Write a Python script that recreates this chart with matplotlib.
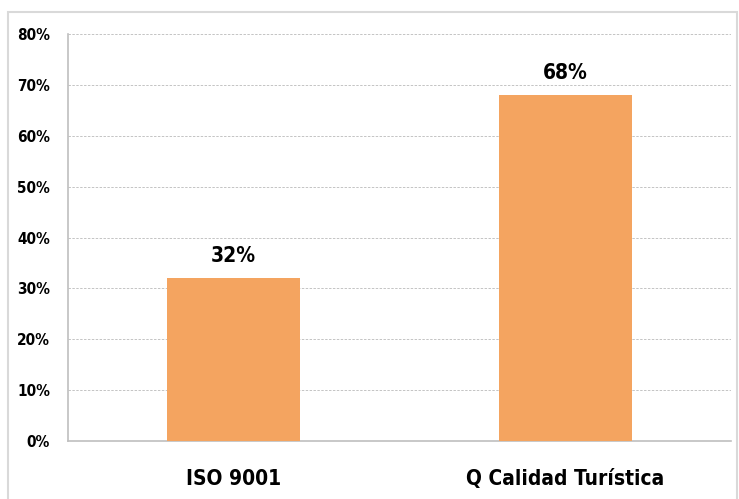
import matplotlib
matplotlib.use("Agg")
import matplotlib.pyplot as plt
from matplotlib.patches import Rectangle
from matplotlib.ticker import FuncFormatter

categories = ["ISO 9001", "Q Calidad Turística"]
values = [32, 68]
yticks = [0, 10, 20, 30, 40, 50, 60, 70, 80]

bar_color = "#F4A460"
font = dict(family="DejaVu Sans", stretch="condensed", weight="bold")

fig = plt.figure(figsize=(7.39, 4.99), dpi=100)
W, H = 739, 499
ax = fig.add_axes([68 / W, 1 - 441 / H, (731 - 68) / W, (441 - 34) / H])

x = list(range(len(categories)))
ax.bar(x, values, width=0.4, color=bar_color, zorder=3)
ax.set_xlim(-0.5, len(categories) - 0.5)
ax.set_ylim(0, 80)
ax.set_yticks(yticks)
ax.yaxis.set_major_formatter(FuncFormatter(lambda v, p: f"{int(v)}%"))
ax.set_xticks(x)
ax.set_xticklabels(categories, fontsize=15, **font)
for lab in ax.get_yticklabels():
    lab.set_fontsize(11)
    lab.set_fontfamily("DejaVu Sans")
    lab.set_fontstretch("condensed")
    lab.set_fontweight("bold")
ax.tick_params(axis="both", length=0)
ax.tick_params(axis="y", pad=13)
ax.tick_params(axis="x", pad=20)
ax.grid(axis="y", color="#C4C4C4", linestyle=(0, (2.5, 1.5)), linewidth=0.7, zorder=0)
for s in ["top", "right"]:
    ax.spines[s].set_visible(False)
for s in ["left", "bottom"]:
    ax.spines[s].set_color("#BFBFBF")
    ax.spines[s].set_linewidth(1.2)

for xi, v in zip(x, values):
    ax.annotate(f"{v}%", (xi, v), xytext=(0, 9), textcoords="offset points",
                ha="center", va="bottom", fontsize=15, **font)

fig.patches.append(Rectangle((8 / W, -0.05), (737 - 8) / W, 1.05 - 12 / H,
                             transform=fig.transFigure, fill=False,
                             edgecolor="#D9D9D9", linewidth=1.5))
fig.savefig("out.png", dpi=100)
